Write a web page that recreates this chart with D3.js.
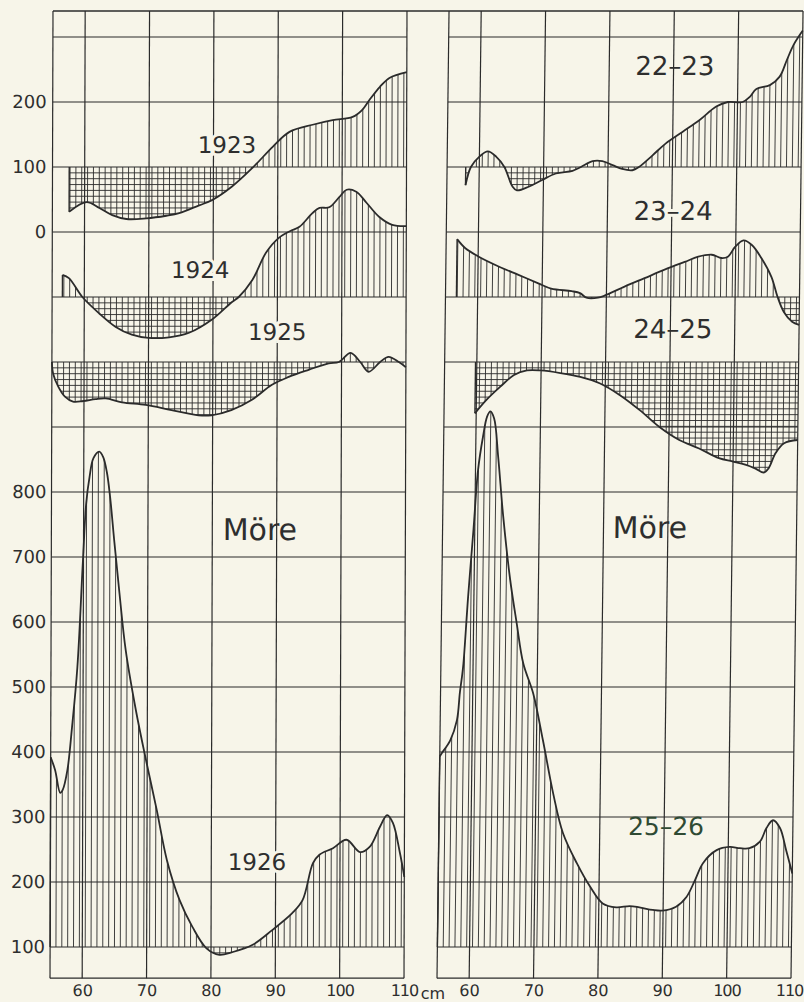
<!DOCTYPE html>
<html>
<head>
<meta charset="utf-8">
<script src="https://cdn.jsdelivr.net/npm/d3@7"></script>
<style>
  body { margin: 0; background: #f7f5e9; }
  svg { display: block; }
  text { font-family: "DejaVu Sans", sans-serif; fill: #2e2e2e; }
</style>
</head>
<body>
<svg id="chart"></svg>
<script>
const svgWidth = 804
const svgHeight = 1002

// [length cm, index] - left panel, baseline of every curve = 100
const catch1923 = [[57.6,31],[60.3,46],[62.3,37],[64.3,26],[66.5,20],[69.6,21],[72.7,25],[74.7,29],[77.8,41],[79.8,49],[82.9,70],[86.1,99],[89.2,131],[91.8,154],[95.4,165],[98.5,172],[101.6,177],[103.1,188],[104.2,203],[105.8,223],[107.3,237],[110,246]]
const catch1924 = [[56.6,134],[57.6,129],[59.7,100],[62.3,75],[64.9,54],[67.4,42],[70,37],[73.2,38],[76.3,45],[79.8,65],[82.9,92],[84,100],[86.1,126],[88.2,168],[90.2,191],[92.3,203],[93.4,208],[95.4,229],[96.5,237],[98,238],[99.6,254],[100.7,265],[102.2,262],[103.8,245],[105.8,223],[107.8,211],[110,209]]
const catch1925 = [[55,100],[55.2,82],[56,62],[57,47],[58.3,39],[59.9,40],[61.8,43],[63.4,44],[65.9,38],[69.6,34],[73.6,26],[77.8,18],[79.8,18],[82.9,26],[86.1,42],[89.2,65],[91.8,77],[94.9,88],[98,98],[99.6,100],[101.4,114],[102.9,100],[104.2,85],[106,100],[107.3,108],[108.9,100],[110,92]]
const catch1926 = [[55,392],[55.7,372],[56.5,337],[56.9,342],[57.6,372],[58.3,438],[59.1,530],[59.9,691],[60.4,783],[60.9,823],[61.5,852],[62.4,862],[63,854],[63.6,830],[64.1,793],[64.8,722],[65.6,645],[66.6,557],[68.2,465],[69.8,388],[71.5,311],[73.1,234],[75.1,172],[77.1,131],[79.3,98],[81.3,88],[83.3,92],[86.4,103],[89.5,126],[92.6,152],[94.2,172],[95.8,229],[96.8,242],[98.9,252],[101,265],[103.1,246],[104.6,254],[106.2,285],[107.3,303],[108.2,291],[109.3,245],[110,208]]

// [length cm, difference] - right panel, baseline = 0
const diff2223 = [[57.9,-28],[58.7,0],[60,16],[61.3,24],[62.6,16],[63.9,0],[65.2,-30],[65.9,-36],[67.8,-30],[69.8,-20],[71.9,-10],[74.5,-6],[75.8,0],[77.6,9],[79.1,9],[80.7,3],[82.2,-3],[83.8,-5],[84.8,0],[86.9,18],[88.9,36],[91.5,54],[94.1,72],[96.7,93],[98.5,100],[100.8,100],[101.9,108],[102.9,120],[105,126],[106.5,139],[107.6,165],[108.6,188],[110,210]]
const diff2324 = [[56.7,89],[58,75],[60.1,62],[63.2,47],[66.3,34],[69.4,21],[71.4,13],[74.6,9],[75.9,6],[76.9,-1],[78.7,-1],[79.7,2],[82.8,16],[85.9,29],[89,42],[92.1,54],[94.2,62],[96.3,65],[97.8,60],[98.8,62],[99.9,77],[101.2,87],[102.5,80],[104,60],[105.6,31],[106.6,0],[107.6,-23],[108.9,-38],[110,-43]]
const diff2425 = [[59.8,-79],[61.6,-58],[63.7,-38],[65.8,-20],[67.8,-13],[69.9,-13],[73,-17],[76.1,-23],[79.2,-33],[82.3,-51],[85.4,-74],[88.5,-100],[91.6,-120],[94.7,-133],[97.8,-148],[99.9,-153],[101.9,-158],[103.5,-164],[104.8,-170],[105.5,-164],[106.6,-140],[107.9,-125],[110,-120]]
const diff2526 = [[55,293],[55.3,298],[56.6,318],[57.6,349],[58,391],[58.3,416],[58.5,436],[59.1,539],[59.8,642],[60.4,734],[61.1,785],[61.7,816],[62.2,824],[62.8,813],[63.5,754],[64.4,662],[65.6,565],[66.7,498],[67.8,436],[69.4,390],[71,318],[72.7,236],[74.3,175],[76.5,129],[78.6,93],[80.6,67],[82.7,61],[84.8,63],[86.3,61],[88.4,57],[89.9,56],[92,62],[93.6,77],[94.9,103],[96.1,129],[98.2,149],[100.2,154],[101.8,152],[103.3,152],[104.9,162],[105.9,183],[106.9,195],[108,183],[109,149],[110,113]]

const xTicks = [60, 70, 80, 90, 100, 110]
const yTicksTop = [200, 100, 0]
const yTicksBottom = [800, 700, 600, 500, 400, 300, 200, 100]

const paper = "#f7f5e9"
const ink = "#2b2b2b"

const panelWidth = 354
const x = d3.scaleLinear().domain([55, 110]).range([0, panelWidth])
// one grid row = 100 units, shared by every curve of a panel
const y = d3.scaleLinear().domain([0, -1100]).range([232, 947])
const yLow = y.copy().domain([1200, 100])
const frameTop = 340
const frameBottom = -1148
const gridRows = d3.range(300, -1101, -100)
const gridCols = [55].concat(xTicks)
const hatchX = d3.range(55, 110.001, 10 / 11)
const hatchGap = 5.85
const smooth = d3.curveCatmullRom.alpha(0.5)

let svg = d3.select("#chart")
  .attr("width", svgWidth)
  .attr("height", svgHeight)

svg.append("rect").attr("width", svgWidth).attr("height", svgHeight).attr("fill", paper)
let defs = svg.append("defs")

let panels = [
  {
    id: "l", tx: 53.03, skew: -0.0031, yAxis: true,
    series: [
      { id: "a", data: catch1923, base: 100, shift: 0 },
      { id: "b", data: catch1924, base: 100, shift: -200 },
      { id: "c", data: catch1925, base: 100, shift: -300 },
      { id: "d", data: catch1926, base: 100, shift: -1200 }
    ],
    labels: [
      { t: "1923", cm: 82.1, u: 121, size: 23, halo: true },
      { t: "1924", cm: 78.0, u: -71, size: 23, halo: true },
      { t: "1925", cm: 90.0, u: -166, size: 23, halo: true },
      { t: "Möre", cm: 87.4, u: -474, size: 30 },
      { t: "1926", cm: 87.1, u: -981, size: 23, halo: true }
    ]
  },
  {
    id: "r", tx: 449.16, skew: -0.01244, yAxis: false,
    series: [
      { id: "a", data: diff2223, base: 0, shift: 100 },
      { id: "b", data: diff2324, base: 0, shift: -100 },
      { id: "c", data: diff2425, base: 0, shift: -200 },
      { id: "d", data: diff2526, base: 0, shift: -1100 }
    ],
    labels: [
      { t: "22–23", cm: 90.2, u: 241, size: 26 },
      { t: "23–24", cm: 90.2, u: 18, size: 26, halo: true },
      { t: "24–25", cm: 90.4, u: -163, size: 26 },
      { t: "Möre", cm: 87.2, u: -471, size: 30 },
      { t: "25–26", cm: 90.3, u: -928, size: 25, color: "#2f4a33" }
    ]
  }
]

// rule over the top, joining both panels
svg.append("line")
  .attr("x1", panels[0].tx + panels[0].skew * y(frameTop))
  .attr("x2", panels[1].tx + panelWidth + panels[1].skew * y(frameTop))
  .attr("y1", y(frameTop)).attr("y2", y(frameTop))
  .attr("stroke", ink).attr("stroke-width", 1.3)

function drawSeries(g, panelId, s) {
  let base = y(s.base + s.shift)
  let yv = d => y(d[1] + s.shift)
  let area = d3.area().x(d => x(d[0])).y0(base).y1(yv).curve(smooth)
  let clipId = `clip-${panelId}-${s.id}`
  defs.append("clipPath").attr("id", clipId).append("path").attr("d", area(s.data))

  let hatch = g.append("g")
    .attr("clip-path", `url(#${clipId})`)
    .attr("stroke", ink)
    .attr("stroke-width", 0.9)

  hatch.selectAll("line.hv")
    .data(hatchX)
    .join("line")
    .classed("hv", true)
    .attr("x1", d => x(d)).attr("x2", d => x(d))
    .attr("y1", y(frameTop)).attr("y2", y(frameBottom))

  // horizontal strokes only below the baseline -> cross-hatching
  hatch.selectAll("line.hh")
    .data(d3.range(base + hatchGap, y(frameBottom), hatchGap))
    .join("line")
    .classed("hh", true)
    .attr("x1", 0).attr("x2", panelWidth)
    .attr("y1", d => d).attr("y2", d => d)

  let first = s.data[0]
  g.append("line")
    .attr("x1", x(first[0])).attr("x2", x(first[0]))
    .attr("y1", base).attr("y2", yv(first))
    .attr("stroke", ink).attr("stroke-width", 1.4)

  g.append("path")
    .attr("d", d3.line().x(d => x(d[0])).y(yv).curve(smooth)(s.data))
    .attr("fill", "none")
    .attr("stroke", ink)
    .attr("stroke-width", 1.8)
}

panels.forEach((p, pi) => {
  let g = svg.append("g")
    .attr("transform", `translate(${p.tx},0) skewX(${Math.atan(p.skew) * 180 / Math.PI})`)

  // grid
  g.append("g").selectAll("line")
    .data(gridRows.concat([frameBottom]))
    .join("line")
    .attr("x1", 0).attr("x2", panelWidth)
    .attr("y1", d => y(d)).attr("y2", d => y(d))
    .attr("stroke", ink).attr("stroke-width", 1.2)

  g.append("g").selectAll("line")
    .data(gridCols)
    .join("line")
    .attr("x1", d => x(d)).attr("x2", d => x(d))
    .attr("y1", y(frameTop)).attr("y2", y(frameBottom))
    .attr("stroke", ink).attr("stroke-width", 1.2)

  p.series.forEach(s => drawSeries(g, p.id, s))

  // length axis
  let xAxis = g.append("g")
    .attr("transform", `translate(0, ${y(frameBottom)})`)
    .call(d3.axisBottom(x).tickValues(xTicks).tickSize(0).tickPadding(6))
    .attr("font-size", 16)
  xAxis.select(".domain").remove()
  xAxis.selectAll("text").attr("letter-spacing", d => d >= 100 ? -1 : 0)
  if (pi === 1) {
    // keep the last label inside the page
    xAxis.selectAll("text").filter(d => d === 110)
      .attr("text-anchor", "end")
      .attr("dx", 12)
  }

  if (p.yAxis) {
    let top = g.append("g")
      .call(d3.axisLeft(y).tickValues(yTicksTop).tickSize(0).tickPadding(6))
      .attr("font-size", 18)
    top.select(".domain").remove()
    let low = g.append("g")
      .call(d3.axisLeft(yLow).tickValues(yTicksBottom).tickSize(0).tickPadding(5))
      .attr("font-size", 18)
    low.select(".domain").remove()
  }

  g.append("g").selectAll("text")
    .data(p.labels)
    .join("text")
    .attr("x", d => x(d.cm))
    .attr("y", d => y(d.u))
    .attr("text-anchor", "middle")
    .attr("font-size", d => d.size)
    .style("fill", d => d.color || "#2e2e2e")
    .style("stroke", d => d.halo ? paper : "none")
    .style("stroke-width", 6)
    .style("paint-order", "stroke")
    .text(d => d.t)
})

svg.append("text")
  .attr("x", 433)
  .attr("y", 999)
  .attr("text-anchor", "middle")
  .attr("font-size", 16)
  .text("cm")
</script>
</body>
</html>
